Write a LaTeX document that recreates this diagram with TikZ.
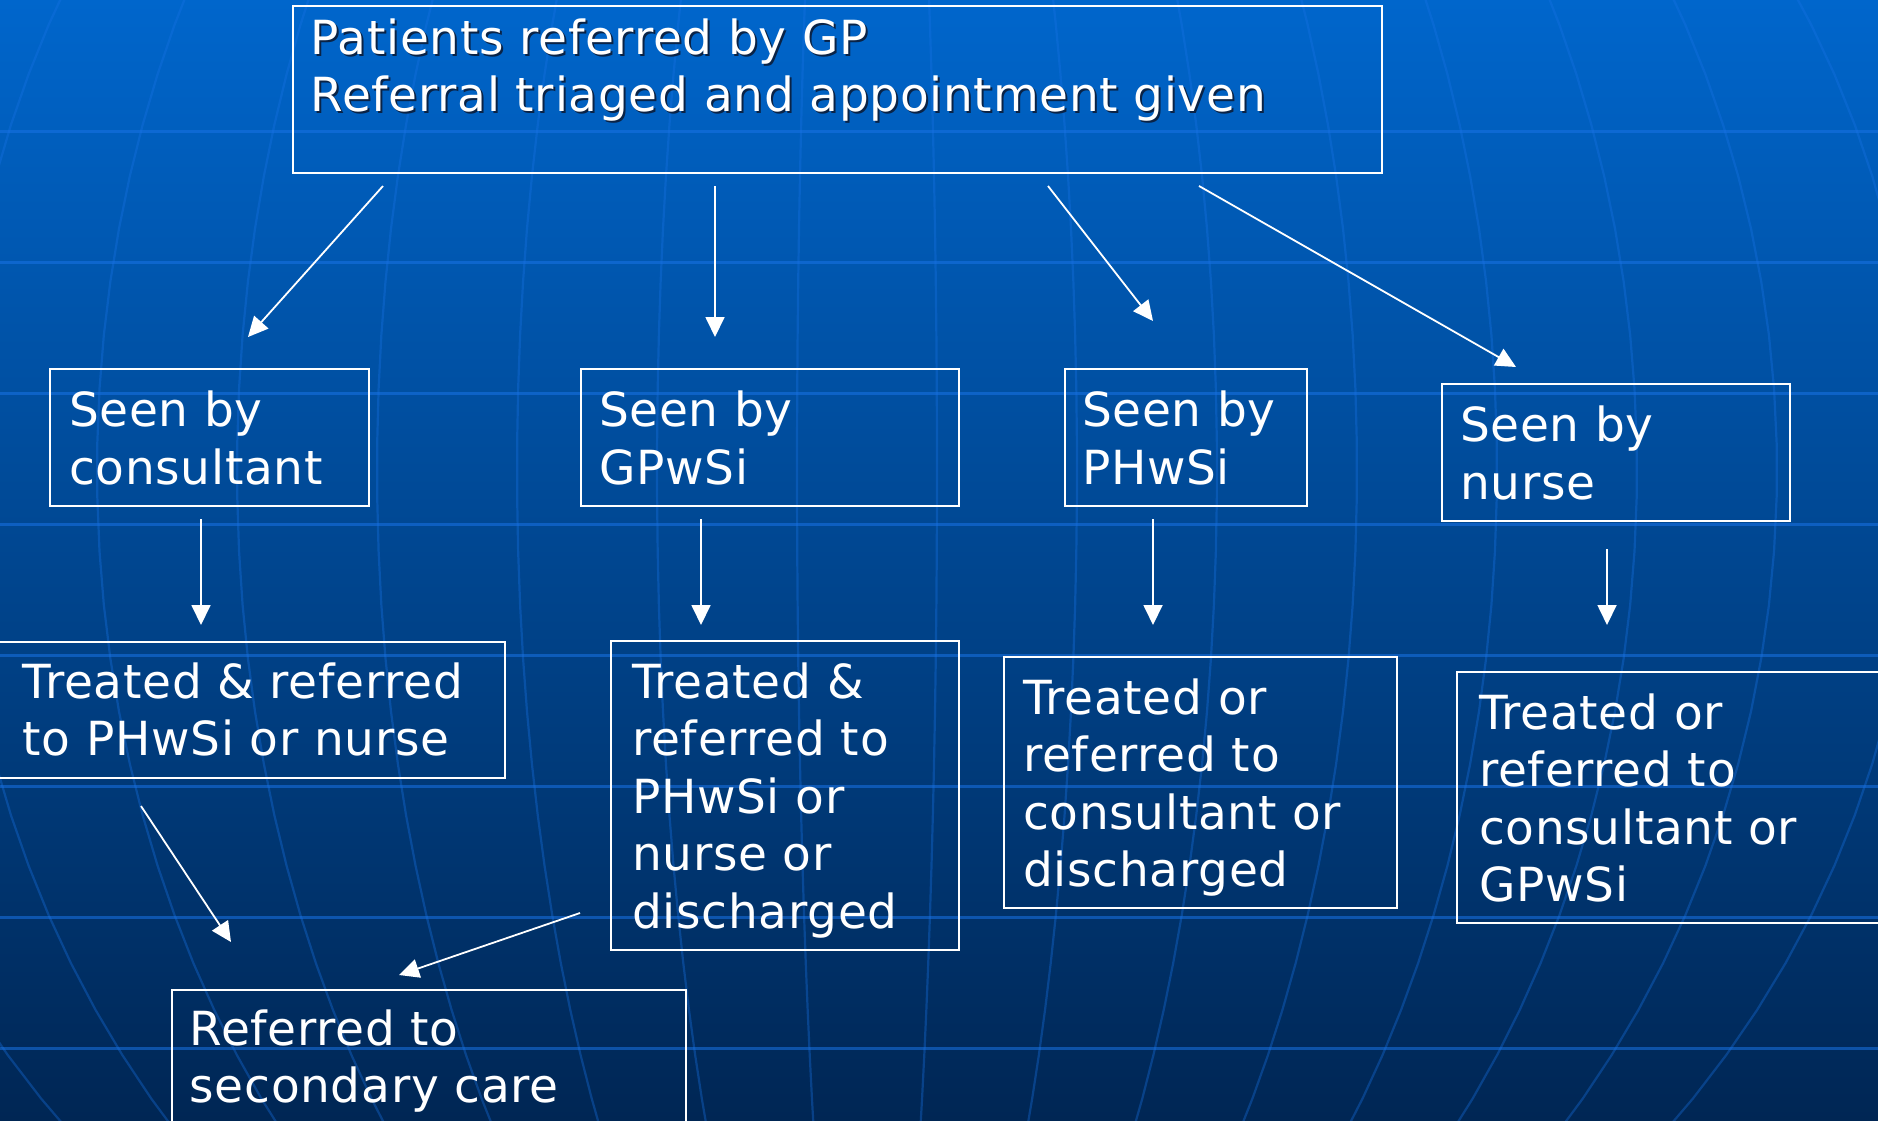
\documentclass[tikz,border=0pt]{standalone}
\usepackage{fontspec}
\setmainfont{DejaVu Sans}[LetterSpace=1.5]
\usetikzlibrary{arrows.meta}
\definecolor{bgtop}{RGB}{0,102,204}
\definecolor{bgmid}{RGB}{0,76,152}
\definecolor{bgbot}{RGB}{0,38,84}
\definecolor{gridc}{RGB}{25,115,230}
\definecolor{shadowc}{RGB}{10,35,70}
\begin{document}
\begin{tikzpicture}[x=1pt,y=-1pt,
  boxnode/.style={draw=white, line width=1.8pt, inner sep=0pt, anchor=north west},
  txt/.style={text=white, font=\fontsize{47}{57.5}\selectfont, anchor=base west,
              inner sep=0pt, align=left, text width=1100pt},
  arr/.style={draw=white, line width=1.8pt, -{Triangle[length=20pt,width=19pt]}},
  gridline/.style={draw=gridc, opacity=0.55, line width=3pt},
  meridian/.style={draw=gridc, opacity=0.35, line width=2.2pt}]
\useasboundingbox (0,0) rectangle (1878,1120);
% background
\shade[top color=bgtop, middle color=bgmid, bottom color=bgbot] (0,0) rectangle (1878,1120);
\begin{scope}
  \clip (0,0) rectangle (1878,1120);
  \foreach \yy in {131,262,393,524,655,786,917,1048}
    \draw[gridline] (0,\yy) -- (1878,\yy);
  \foreach \j in {-8,...,7}{
    \pgfmathsetmacro\kk{140*(\j+0.5)}
    \draw[meridian] plot[domain=-90:90,samples=60,variable=\t]
      ({867+\kk*cos(\t)},{470+1018*sin(\t)});
  }
\end{scope}
% boxes
\node[boxnode, minimum width=1089pt, minimum height=167pt] (b0) at (292,5) {};
\node[boxnode, minimum width=319pt, minimum height=137pt] (b1) at (49,368) {};
\node[boxnode, minimum width=378pt, minimum height=137pt] (b2) at (580,368) {};
\node[boxnode, minimum width=242pt, minimum height=137pt] (b3) at (1064,368) {};
\node[boxnode, minimum width=348pt, minimum height=137pt] (b4) at (1441,383) {};
\node[boxnode, minimum width=507pt, minimum height=136pt] (c1) at (-3,641) {};
\node[boxnode, minimum width=348pt, minimum height=309pt] (c2) at (610,640) {};
\node[boxnode, minimum width=393pt, minimum height=251pt] (c3) at (1003,656) {};
\node[boxnode, minimum width=460pt, minimum height=251pt] (c4) at (1456,671) {};
\node[boxnode, minimum width=514pt, minimum height=200pt] (d1) at (171,989) {};
% texts
\node[txt, text=shadowc] (t0s) at (312.5,56.3) {Patients referred by GP\\Referral triaged and appointment given};
\node[txt] (t0) at (310.5,54.3) {Patients referred by GP\\Referral triaged and appointment given};
\node[txt] (t1) at (69,426.5) {Seen by\\consultant};
\node[txt] (t2) at (599,426.5) {Seen by\\GPwSi};
\node[txt] (t3) at (1082,426.5) {Seen by\\PHwSi};
\node[txt] (t4) at (1460,441.5) {Seen by\\nurse};
\node[txt] (t5) at (22.5,698) {Treated \& referred\\to PHwSi or nurse};
\node[txt] (t6) at (632,698) {Treated \&\\referred to\\PHwSi or\\nurse or\\discharged};
\node[txt] (t7) at (1023,714) {Treated or\\referred to\\consultant or\\discharged};
\node[txt] (t8) at (1479,729) {Treated or\\referred to\\consultant or\\GPwSi};
\node[txt] (t9) at (189.5,1045) {Referred to\\secondary care};
% connector end points
\coordinate (s1) at (383,186);  \coordinate (e1) at (248,337);
\coordinate (s2) at (715,186);  \coordinate (e2) at (715,337);
\coordinate (s3) at (1048,186); \coordinate (e3) at (1153,321);
\coordinate (s4) at (1199,186); \coordinate (e4) at (1516,367);
\coordinate (s5) at (201,519);  \coordinate (e5) at (201,625);
\coordinate (s6) at (701,519);  \coordinate (e6) at (701,625);
\coordinate (s7) at (1153,519); \coordinate (e7) at (1153,625);
\coordinate (s8) at (1607,549); \coordinate (e8) at (1607,625);
\coordinate (s9) at (141,806);  \coordinate (e9) at (231,942);
\coordinate (s10) at (580,913); \coordinate (e10) at (399,975);
\foreach \i in {1,...,10}
  \draw[arr] (s\i) -- (e\i);
\end{tikzpicture}
\end{document}
